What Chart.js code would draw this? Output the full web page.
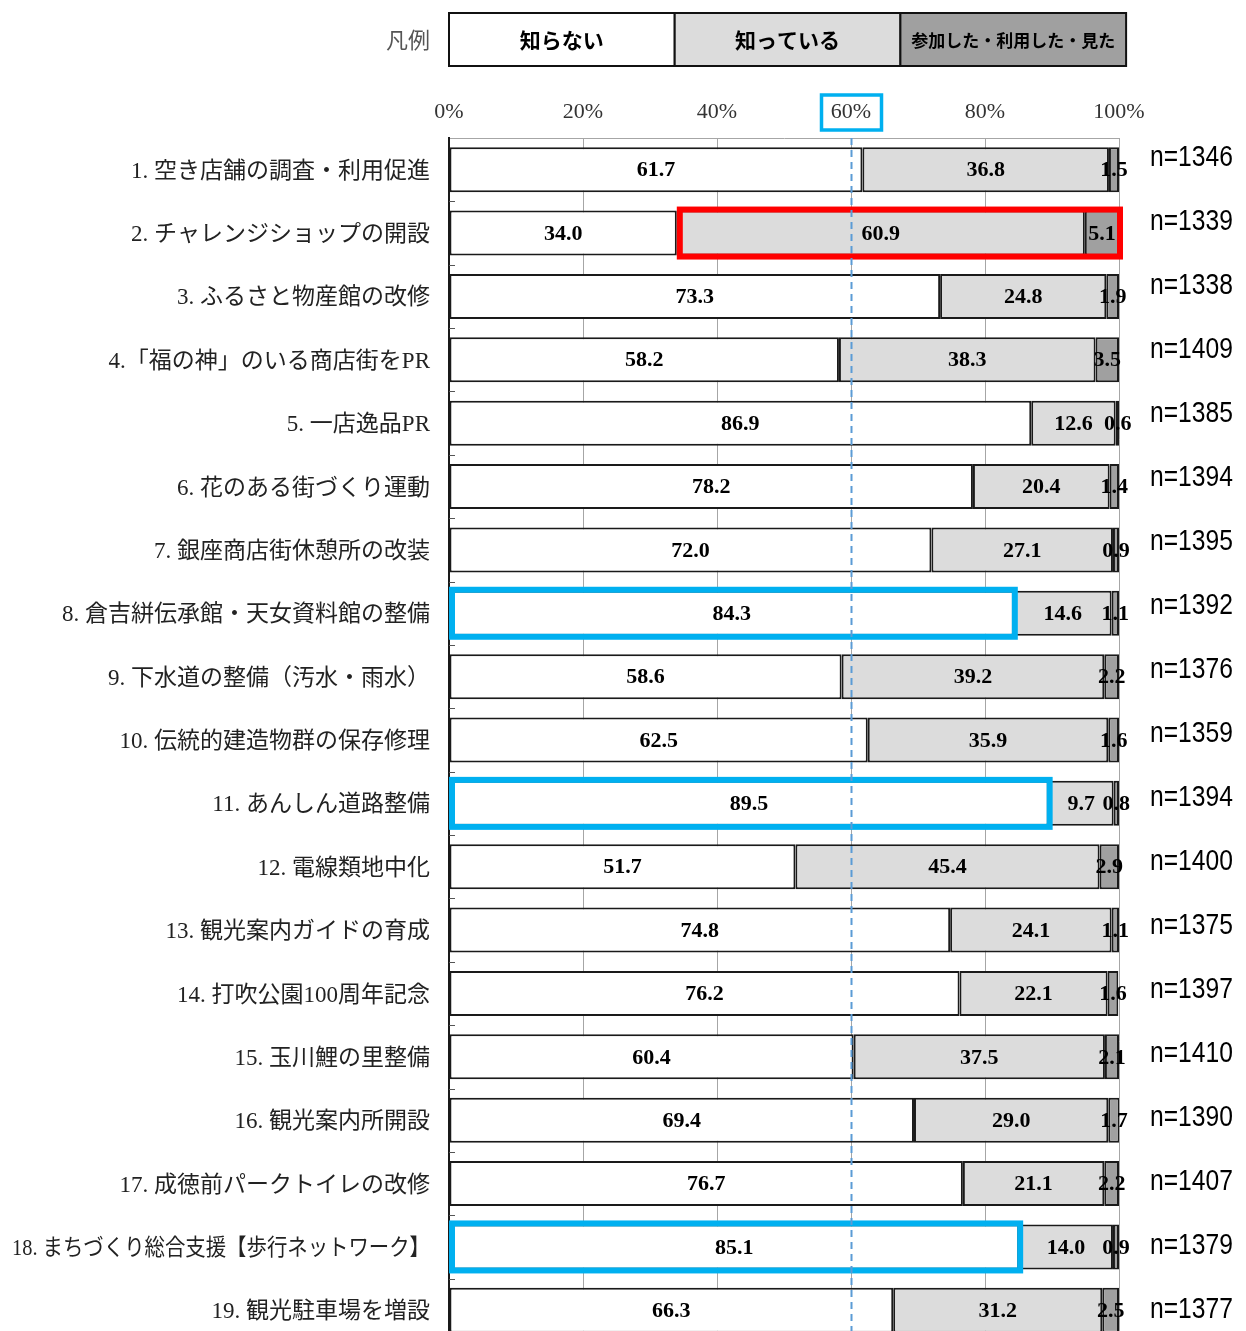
<!DOCTYPE html>
<html lang="ja">
<head>
<meta charset="UTF-8">
<title>事業の認知度</title>
<style>
  html, body { margin: 0; padding: 0; background: #fff; overflow: hidden; }
  #wrap { width: 1246px; height: 1344px; }
</style>
</head>
<body>
<div id="wrap"><canvas id="chart" width="1246" height="1344"></canvas></div>

<script src="https://cdn.jsdelivr.net/npm/chart.js"></script>
<script>
// 項目
const categories = [
  '1. 空き店舗の調査・利用促進',
  '2. チャレンジショップの開設',
  '3. ふるさと物産館の改修',
  '4.「福の神」のいる商店街をPR',
  '5. 一店逸品PR',
  '6. 花のある街づくり運動',
  '7. 銀座商店街休憩所の改装',
  '8. 倉吉絣伝承館・天女資料館の整備',
  '9. 下水道の整備（汚水・雨水）',
  '10. 伝統的建造物群の保存修理',
  '11. あんしん道路整備',
  '12. 電線類地中化',
  '13. 観光案内ガイドの育成',
  '14. 打吹公園100周年記念',
  '15. 玉川鯉の里整備',
  '16. 観光案内所開設',
  '17. 成徳前パークトイレの改修',
  '18. まちづくり総合支援【歩行ネットワーク】',
  '19. 観光駐車場を増設'
];

// 割合(%)
const shiranai  = [61.7, 34.0, 73.3, 58.2, 86.9, 78.2, 72.0, 84.3, 58.6, 62.5, 89.5, 51.7, 74.8, 76.2, 60.4, 69.4, 76.7, 85.1, 66.3];
const shitteiru = [36.8, 60.9, 24.8, 38.3, 12.6, 20.4, 27.1, 14.6, 39.2, 35.9,  9.7, 45.4, 24.1, 22.1, 37.5, 29.0, 21.1, 14.0, 31.2];
const sanka     = [ 1.5,  5.1,  1.9,  3.5,  0.6,  1.4,  0.9,  1.1,  2.2,  1.6,  0.8,  2.9,  1.1,  1.6,  2.1,  1.7,  2.2,  0.9,  2.5];
const sampleN   = [1346, 1339, 1338, 1409, 1385, 1394, 1395, 1392, 1376, 1359, 1394, 1400, 1375, 1397, 1410, 1390, 1407, 1379, 1377];

const seriesNames = ['知らない', '知っている', '参加した・利用した・見た'];
const xTicks = [0, 20, 40, 60, 80, 100];

// 強調枠
const refLine = 60;
const redRows = [1];          // 知っている＋参加 の枠
const blueRows = [7, 10, 17]; // 知らない の枠

const legendTable = {
  id: 'legendTable',
  afterDraw(chart) {
    const ctx = chart.ctx;
    const left = chart.chartArea.left;
    const top = 13, h = 53, w = 225.7;
    ctx.save();
    chart.data.datasets.forEach((ds, i) => {
      const x = left + i * w;
      ctx.fillStyle = ds.backgroundColor;
      ctx.fillRect(x, top, w, h);
      ctx.strokeStyle = '#111';
      ctx.lineWidth = 2;
      ctx.strokeRect(x, top, w, h);
      ctx.fillStyle = '#000';
      ctx.font = (i === 2 ? 'bold 17px' : 'bold 21px') + ' "Noto Sans CJK JP"';
      ctx.textAlign = 'center';
      ctx.textBaseline = 'middle';
      ctx.fillText(ds.label, x + w / 2, top + h / 2 + 1);
    });
    ctx.font = '22px "Noto Sans CJK JP"';
    ctx.fillStyle = '#555';
    ctx.textAlign = 'right';
    ctx.textBaseline = 'middle';
    ctx.fillText('凡例', left - 19, 40);
    ctx.restore();
  }
};

const overlays = {
  id: 'overlays',
  afterDatasetsDraw(chart) {
    const ctx = chart.ctx;
    const xs = chart.scales.x;
    const ys = chart.scales.y;
    const area = chart.chartArea;
    const rows = chart.getDatasetMeta(0).data;
    ctx.save();

    // 項目名
    ctx.font = '23px "Liberation Serif", "Noto Sans CJK JP"';
    ctx.fillStyle = '#222';
    ctx.textAlign = 'right';
    ctx.textBaseline = 'middle';
    chart.data.labels.forEach((lab, i) => {
      ctx.fillText(lab, area.left - 19, ys.getPixelForValue(i) + 2, 418);
    });

    // 区切りの目盛り
    ctx.strokeStyle = '#555';
    ctx.lineWidth = 1;
    for (let i = 0; i < rows.length - 1; i++) {
      const y = Math.round((rows[i].y + rows[i + 1].y) / 2) + 0.5;
      ctx.beginPath();
      ctx.moveTo(area.left, y);
      ctx.lineTo(area.left + 6, y);
      ctx.stroke();
    }

    // 数値ラベル
    ctx.font = 'bold 22px "Liberation Serif"';
    ctx.fillStyle = '#000';
    ctx.textAlign = 'center';
    ctx.textBaseline = 'middle';
    chart.data.datasets.forEach((ds, di) => {
      chart.getDatasetMeta(di).data.forEach((bar, i) => {
        const cx = (bar.x + bar.base) / 2;
        ctx.fillText(ds.data[i].toFixed(1), cx, bar.y + 1);
      });
    });

    // 枠
    ctx.lineWidth = 6;
    const box = (i, from, to, color) => {
      const bar = rows[i];
      const x0 = xs.getPixelForValue(from) + 3;
      const x1 = xs.getPixelForValue(to) + 1;
      ctx.strokeStyle = color;
      ctx.strokeRect(x0, bar.y - bar.height / 2 - 1, x1 - x0, bar.height + 2);
    };
    redRows.forEach(i => box(i, shiranai[i], 100, '#ff0000'));
    blueRows.forEach(i => box(i, 0, shiranai[i], '#00b0f0'));

    // 60% 破線
    const x60 = Math.round(xs.getPixelForValue(refLine)) + 0.5;
    ctx.strokeStyle = '#5b9bd5';
    ctx.lineWidth = 2;
    ctx.setLineDash([7, 5]);
    ctx.beginPath();
    ctx.moveTo(x60, area.top);
    ctx.lineTo(x60, area.bottom);
    ctx.stroke();
    ctx.setLineDash([]);

    // 60% 目盛りの枠
    ctx.strokeStyle = '#00b0f0';
    ctx.lineWidth = 3.5;
    ctx.strokeRect(x60 - 30, 95, 60, 35);

    // n=
    ctx.fillStyle = '#000';
    ctx.textAlign = 'left';
    ctx.textBaseline = 'middle';
    ctx.font = '29px "Liberation Sans"';
    const last = rows[rows.length - 1].y;
    rows.forEach((bar, i) => {
      const y = last - (rows.length - 1 - i) * 64;
      ctx.save();
      ctx.translate(area.right + 31, y);
      ctx.scale(0.85, 1);
      ctx.fillText('n=' + sampleN[i], 0, 0);
      ctx.restore();
    });
    ctx.restore();
  }
};

const ctx = document.getElementById('chart').getContext('2d');
new Chart(ctx, {
  type: 'bar',
  data: {
    labels: categories,
    datasets: [
      { label: seriesNames[0], data: shiranai,  backgroundColor: '#ffffff' },
      { label: seriesNames[1], data: shitteiru, backgroundColor: '#dcdcdc' },
      { label: seriesNames[2], data: sanka,     backgroundColor: '#a0a0a0' }
    ].map(d => Object.assign(d, {
      borderColor: '#1a1a1a',
      borderWidth: 2,
      borderSkipped: false,
      barPercentage: 0.71,
      categoryPercentage: 1
    }))
  },
  options: {
    indexAxis: 'y',
    responsive: false,
    animation: false,
    layout: { padding: { top: 90, right: 127, bottom: 2, left: 0 } },
    plugins: {
      legend: { display: false },
      tooltip: { enabled: false }
    },
    scales: {
      x: {
        position: 'top',
        stacked: true,
        min: 0,
        max: 100,
        afterBuildTicks: s => { s.ticks = xTicks.map(v => ({ value: v })); },
        afterFit: s => { s.height = 48; s.paddingLeft = 0; s.paddingRight = 0; },
        ticks: {
          callback: v => v + '%',
          font: { family: '"Liberation Serif"', size: 22 },
          color: '#333',
          padding: 13,
          maxRotation: 0
        },
        grid: { color: '#a6a6a6', lineWidth: 1, drawTicks: false },
        border: { color: '#a6a6a6', width: 1 }
      },
      y: {
        stacked: true,
        afterFit: s => { s.width = 449; s.paddingTop = 0; s.paddingBottom = 0; },
        ticks: { display: false },
        grid: { display: false, drawTicks: false },
        border: { color: '#1a1a1a', width: 2 }
      }
    }
  },
  plugins: [legendTable, overlays]
});
</script>
</body>
</html>
